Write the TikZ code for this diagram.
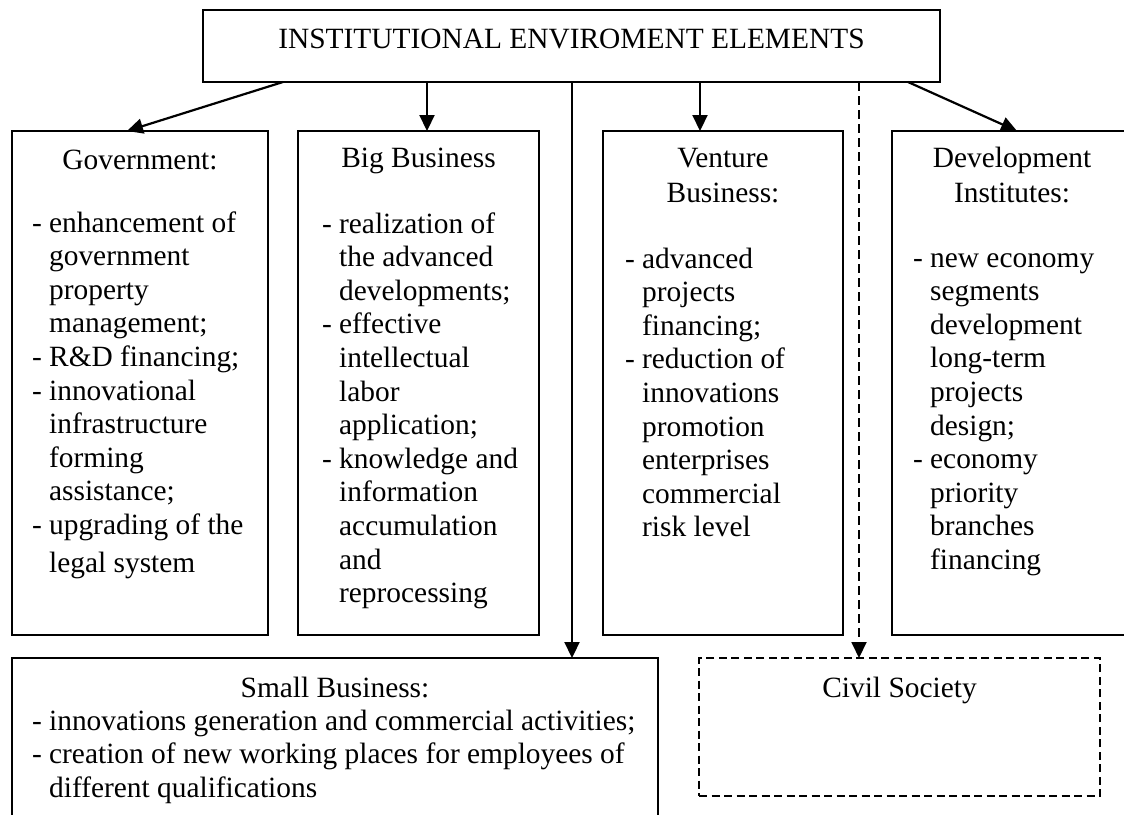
\documentclass[tikz,border=0pt]{standalone}
\usepackage{fontspec}
\setmainfont{Liberation Serif}
\usetikzlibrary{arrows.meta}
\newcommand\gind{\hphantom{-\ }}
\newcommand\firstl{\rule{0pt}{23pt}}
\begin{document}
\begin{tikzpicture}[x=1pt,y=-1pt,
  box/.style={draw, line width=1.6pt, inner sep=0pt, outer sep=0pt},
  dbox/.style={box, line width=1.4pt, dash pattern=on 8pt off 4.5pt},
  txt/.style={font=\fontsize{29.4}{33.6}\selectfont, inner sep=0pt, outer sep=0pt},
  body/.style={txt, align=left, anchor=north west},
  arr/.style={line width=2.2pt, -{Triangle[length=16pt,width=15pt]}},
  darr/.style={arr, line width=1.9pt, dash pattern=on 9pt off 5pt}]
\useasboundingbox (0,0) rectangle (1124,814);
\clip (0,0) rectangle (1124,814);
\fill[white] (0,0) rectangle (1124,814);
% boxes
\node[box, minimum width=737pt, minimum height=72pt] (top) at (571.5,46) {};
\node[box, minimum width=256pt, minimum height=504pt] (gov) at (140,383) {};
\node[box, minimum width=241pt, minimum height=504pt] (bb) at (418.5,383) {};
\node[box, minimum width=240pt, minimum height=504pt] (vb) at (723,383) {};
\node[box, minimum width=240pt, minimum height=504pt] (dev) at (1012,383) {};
\node[box, minimum width=646pt, minimum height=182pt] (sb) at (335,749) {};
\node[dbox, minimum width=401pt, minimum height=138pt] (cs) at (899.5,727) {};
% texts
\node[txt, anchor=base] (toptxt) at (571.5,48) {INSTITUTIONAL ENVIROMENT ELEMENTS};
\node[txt, anchor=base] (govt) at (140,169) {Government:};
\node[body] (govb) at (32,209) {\firstl- enhancement of\\
\gind government\\
\gind property\\
\gind management;\\
- R\&D financing;\\
- innovational\\
\gind infrastructure\\
\gind forming\\
\gind assistance;\\
- upgrading of the\\[4.4pt]
\gind legal system};
\node[txt, anchor=base] (bbt) at (418.5,167) {Big Business};
\node[body] (bbb) at (322,210) {\firstl- realization of\\
\gind the advanced\\
\gind developments;\\
- effective\\
\gind intellectual\\
\gind labor\\
\gind application;\\
- knowledge and\\
\gind information\\
\gind accumulation\\
\gind and\\
\gind reprocessing};
\node[txt, anchor=base] (vbt1) at (723,167) {Venture};
\node[txt, anchor=base] (vbt2) at (723,202) {Business:};
\node[body] (vbb) at (625,245) {\firstl- advanced\\
\gind projects\\
\gind financing;\\
- reduction of\\
\gind innovations\\
\gind promotion\\
\gind enterprises\\
\gind commercial\\
\gind risk level};
\node[txt, anchor=base] (devt1) at (1012,167) {Development};
\node[txt, anchor=base] (devt2) at (1012,202) {Institutes:};
\node[body] (devb) at (913,244) {\firstl- new economy\\
\gind segments\\
\gind development\\
\gind long-term\\
\gind projects\\
\gind design;\\
- economy\\
\gind priority\\
\gind branches\\
\gind financing};
\node[txt, anchor=base] (sbt) at (335,697) {Small Business:};
\node[body] (sbb) at (32,707) {\firstl- innovations generation and commercial activities;\\
- creation of new working places for employees of\\
\gind different qualifications};
\node[txt, anchor=base] (cst) at (899.5,697) {Civil Society};
% connectors
\coordinate (sbin) at ([xshift=-86pt]sb.north east);
\coordinate (csin) at ([xshift=-40.5pt]cs.north);
\draw[arr] ([xshift=80pt]top.south west) -- ([xshift=115pt]gov.north west);
\draw[arr] ([xshift=8.5pt]bb.north |- top.south) -- ([xshift=8.5pt]bb.north);
\draw[arr] (sbin |- top.south) -- (sbin);
\draw[arr] ([xshift=-23pt]vb.north |- top.south) -- ([xshift=-23pt]vb.north);
\draw[darr] (csin |- top.south) -- (csin);
\draw[arr] ([xshift=-32pt]top.south east) -- ([xshift=125pt]dev.north west);
\end{tikzpicture}
\end{document}
